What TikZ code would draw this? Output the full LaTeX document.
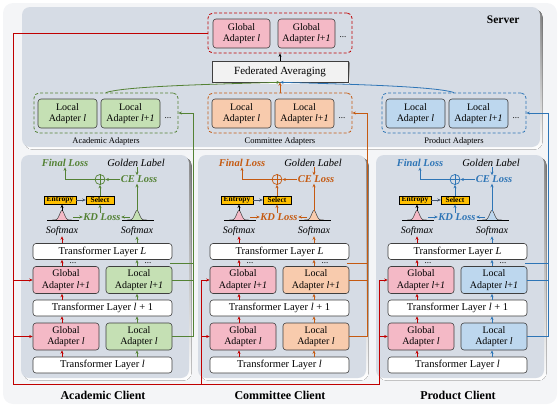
\documentclass[tikz,border=0pt]{standalone}
\usepackage{fontspec}
\setmainfont{Liberation Serif}
\usetikzlibrary{arrows.meta,calc}

\definecolor{bgout}{HTML}{F4F5F7}
\definecolor{panel}{HTML}{D6DCE5}
\definecolor{shade}{HTML}{A7ABB1}
\definecolor{boxline}{HTML}{3F3F3F}
\definecolor{redln}{HTML}{C00000}
\definecolor{grn}{HTML}{548235}
\definecolor{org}{HTML}{C55A11}
\definecolor{blu}{HTML}{2E75B6}
\definecolor{pinkf}{HTML}{F4B9C6}
\definecolor{grnf}{HTML}{C5E0B4}
\definecolor{orgf}{HTML}{F8CBAD}
\definecolor{bluf}{HTML}{BDD7EE}
\definecolor{fedf}{HTML}{F2F2F2}
\definecolor{gold}{HTML}{FFC000}
\definecolor{slate}{HTML}{44546A}

\newcommand\fsz[2]{\fontsize{#1}{#2}\selectfont}
% Glockenkurve über der Grundlinie (y = 220)
\newcommand\bell[2]{%
  \fill[#2] plot[domain=-10:10,samples=31] ({#1+\x},{220-9.5*exp(-((\x)^2)/11)});
  \draw[boxline,line width=0.5pt] plot[domain=-10:10,samples=31] ({#1+\x},{220-9.5*exp(-((\x)^2)/11)});
  \draw[black,line width=0.9pt] (#1-15,220) -- (#1+17,220);}

\tikzset{
  arr/.style={line width=0.8pt,-{Stealth[length=3.5pt,width=3pt]}},
  adp/.style={draw=boxline,line width=0.6pt,rounded corners=3pt,align=center,
    inner sep=0pt,font=\fsz{10}{11.5}},
  tlayer/.style={adp,fill=white,font=\fsz{10.5}{12},minimum width=139pt,minimum height=16pt},
  grpbox/.style={dash pattern=on 3pt off 2pt,line width=0.8pt,rounded corners=5pt,
    minimum width=144pt,minimum height=40pt,inner sep=0pt},
  yel/.style={draw=black,line width=0.4pt,fill=gold,font=\bfseries\fsz{7.5}{8},
    inner sep=0pt,minimum height=8.5pt},
  loss/.style={font=\bfseries\itshape\fsz{10.5}{12},inner sep=0.5pt},
  dots/.style={font=\fsz{9}{9},inner sep=0pt},
}

\begin{document}
\begin{tikzpicture}[x=1pt,y=-1pt]
  \useasboundingbox (0,0) rectangle (560,407);
  \fill[bgout,rounded corners=10pt] (3,3) rectangle (557,404);

  % Server
  \fill[shade,rounded corners=8pt] (24.5,9.5) rectangle (542.5,149.5);
  \fill[panel,rounded corners=8pt] (22,7) rectangle (540,147);
  \node[font=\bfseries\fsz{11.5}{13},anchor=east] (srv) at (523,20) {Server};

  \node[grpbox,draw=redln] (gbox) at (280,33) {};
  \node[adp,fill=pinkf,minimum width=57pt,minimum height=29pt] (g1) at (241.5,33.5) {Global\\Adapter \textit{l}};
  \node[adp,fill=pinkf,minimum width=57pt,minimum height=29pt] (g2) at (306.5,33.5) {Global\\Adapter \textit{l}+\textit{1}};
  \node[dots] (gdots) at (343,37) {...};

  \fill[shade] (213.5,62.5) rectangle (349.5,83.5);
  \node[adp,fill=fedf,rounded corners=0pt,font=\fsz{11}{13},minimum width=136pt,
    minimum height=21pt] (fed) at (280,71.5) {Federated Averaging};

  \foreach \gx/\cl/\fl/\nm/\lbl in {106/grn/grnf/a/Academic,280/org/orgf/c/Committee,454/blu/bluf/p/Product}{
    \node[grpbox,draw=\cl] (\nm-grp) at (\gx,113) {};
    \node[adp,fill=\fl,minimum width=59pt,minimum height=29pt] (\nm-sl1) at (\gx-38.5,113.5) {Local\\Adapter \textit{l}};
    \node[adp,fill=\fl,minimum width=59pt,minimum height=29pt] (\nm-sl2) at (\gx+24.5,113.5) {Local\\Adapter \textit{l}+\textit{1}};
    \node[dots] (\nm-sd) at (\gx+62,118) {...};
    \node[font=\fsz{8.5}{10}] (\nm-gl) at (\gx,141) {\lbl\ Adapters};
  }

  \draw[arr,black] (fed.north) -- (gbox.south);
  \draw[arr,org] (c-grp.north) -- (fed.south);
  \draw[arr,grn] (a-grp.north) .. controls (125,86) and (220,84) .. (fed.south);
  \draw[arr,blu] (p-grp.north) .. controls (435,86) and (340,84) .. (fed.south);

  % Clients
  \foreach \ox/\cl/\fl/\nm/\lbl/\vx in {0/grn/grnf/a/Academic/193,177/org/orgf/c/Committee/190,355/blu/bluf/p/Product/193}{
  \begin{scope}[shift={(\ox,0)}]
    \fill[shade,rounded corners=8pt] (23.5,157.5) rectangle (191.5,380.5);
    \fill[panel,rounded corners=8pt] (21,155) rectangle (189,378);
    \node[font=\bfseries\fsz{12}{14}] (\nm-lbl) at (103,395) {\lbl\ Client};

    \coordinate (\nm-gc) at (62,0);
    \coordinate (\nm-lc) at (137,0);
    \node[tlayer] (\nm-tl1) at (102.5,365) {Transformer Layer \textit{l}};
    \node[adp,fill=pinkf,minimum width=66pt,minimum height=27pt] (\nm-ga1) at (66,336.5) {Global\\Adapter \textit{l}};
    \node[adp,fill=\fl,minimum width=66pt,minimum height=27pt] (\nm-la1) at (139,336.5) {Local\\Adapter \textit{l}};
    \node[tlayer] (\nm-tl2) at (102.5,308) {Transformer Layer \textit{l} + 1};
    \node[adp,fill=pinkf,minimum width=66pt,minimum height=27pt] (\nm-ga2) at (66,280) {Global\\Adapter \textit{l}+\textit{1}};
    \node[adp,fill=\fl,minimum width=66pt,minimum height=27pt] (\nm-la2) at (139,280) {Local\\Adapter \textit{l}+\textit{1}};
    \node[tlayer] (\nm-tlL) at (102.5,251.5) {Transformer Layer \textit{L}};
    \node[dots] (\nm-d1) at (73,263.5) {...};
    \node[dots] (\nm-d2) at (148,263.5) {...};

    \node[font=\itshape\fsz{10}{12},inner sep=0.5pt] (\nm-sml) at (62,231) {Softmax};
    \node[font=\itshape\fsz{10}{12},inner sep=0.5pt] (\nm-smr) at (137,231) {Softmax};
    \bell{62}{pinkf}
    \bell{137}{\fl}
    \coordinate (\nm-bl) at (62,210.5);
    \coordinate (\nm-br) at (137,210.5);
    \coordinate (\nm-blr) at (73,217);
    \coordinate (\nm-brl) at (130,217);

    \node[yel,minimum width=32pt] (\nm-ent) at (60,200) {Entropy};
    \node[yel,minimum width=28pt] (\nm-sel) at (100,200) {Select};
    \node[loss,text=\cl] (\nm-kd) at (102,217) {KD Loss};
    \node[circle,draw=\cl,line width=0.7pt,minimum size=10pt,inner sep=0pt] (\nm-sum) at (100,179.5) {};
    \draw[\cl,line width=0.7pt] (\nm-sum.north) -- (\nm-sum.south) (\nm-sum.west) -- (\nm-sum.east);
    \node[loss,text=\cl] (\nm-ce) at (139,179.5) {CE Loss};
    \node[font=\itshape\fsz{10.5}{12},inner sep=0.5pt] (\nm-gold) at (136,163) {Golden Label};
    \node[loss,text=\cl] (\nm-fin) at (65,163) {Final Loss};

    % Pfeile im Client
    \foreach \a/\b in {tl1/ga1,ga1/tl2,tl2/ga2}{
      \draw[arr,redln] (\nm-gc |- \nm-\a.north) -- (\nm-gc |- \nm-\b.south);
      \draw[arr,\cl] (\nm-lc |- \nm-\a.north) -- (\nm-lc |- \nm-\b.south);
    }
    \draw[arr,redln] (\nm-gc |- \nm-ga2.north) -- (\nm-gc |- \nm-tlL.south);
    \draw[arr,\cl] (\nm-lc |- \nm-la2.north) -- (\nm-lc |- \nm-tlL.south);
    \draw[arr,redln] (\nm-gc |- \nm-tlL.north) -- (\nm-gc |- \nm-sml.south);
    \draw[arr,\cl] (\nm-lc |- \nm-tlL.north) -- (\nm-lc |- \nm-smr.south);
    \draw[arr,black] (\nm-bl) -- (\nm-bl |- \nm-ent.south);
    \draw[arr,slate] (\nm-ent) -- (\nm-sel);
    \draw[arr,\cl] (\nm-blr) -- (\nm-kd.west);
    \draw[arr,\cl] (\nm-brl) -- (\nm-kd.east);
    \draw[arr,\cl] (\nm-sel.south |- \nm-kd.north) -- (\nm-sel.south);
    \draw[arr,\cl] (\nm-sel) -- (\nm-sum);
    \draw[arr,\cl] (\nm-br) -- (\nm-br |- \nm-ce.south);
    \draw[arr,\cl] (\nm-gold.south -| \nm-br) -- (\nm-br |- \nm-ce.north);
    \draw[arr,\cl] (\nm-ce) -- (\nm-sum);
    \draw[arr,\cl] (\nm-sum.west) -- (\nm-sum.west -| \nm-fin) -- (\nm-fin.south);

    % Rückweg zu den lokalen Adaptern im Server
    \coordinate (\nm-up) at (\vx,113);
    \coordinate (\nm-dr) at (170,263);
    \coordinate (\nm-rx) at (24,384);
    \draw[arr,\cl] (\nm-la1.east) -- (\nm-la1.east -| \nm-up) -- (\nm-up) -- (\nm-grp.east);
    \draw[\cl,line width=0.8pt] (\nm-la2.east) -- (\nm-la2.east -| \nm-up);
    \draw[\cl,line width=0.8pt] (\nm-dr) -- (\nm-dr -| \nm-up);
  \end{scope}
  }

  % globale Adapter an alle Clients
  \coordinate (rtop) at (13,33);
  \coordinate (rbot) at (13,384);
  \draw[redln,line width=0.8pt] (gbox.west) -- (rtop) -- (rbot) -- (p-rx) -- (p-rx |- p-ga2.west);
  \draw[redln,line width=0.8pt] (c-rx) -- (c-rx |- c-ga2.west);
  \foreach \n/\k in {a/rbot,c/c-rx,p/p-rx}{
    \draw[arr,redln] (\k |- \n-ga1.west) -- (\n-ga1.west);
    \draw[arr,redln] (\k |- \n-ga2.west) -- (\n-ga2.west);
  }
\end{tikzpicture}
\end{document}
